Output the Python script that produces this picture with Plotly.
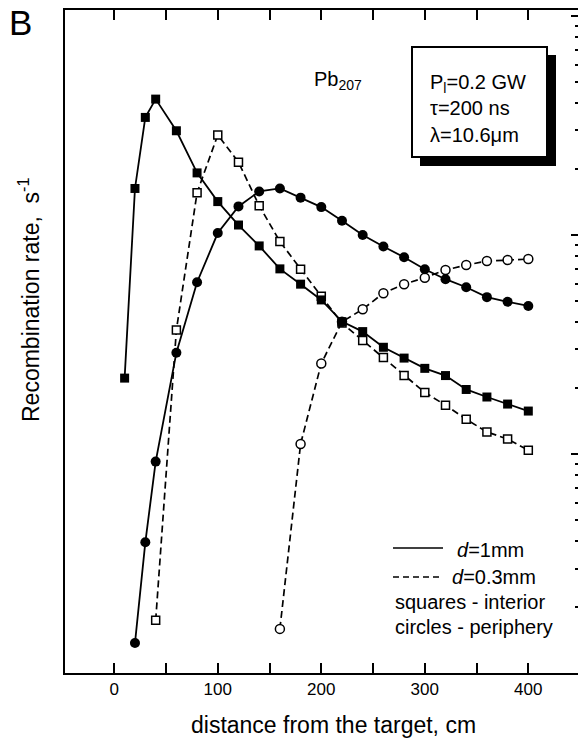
import plotly.graph_objects as go

# distance from the target, cm
dist_sq_1mm = [10, 20, 30, 40, 60, 80, 100, 120, 140, 160, 180, 200, 220, 240, 260, 280, 300, 320, 340, 360, 380, 400]
rate_sq_1mm = [22.2, 163, 344, 417, 299, 192, 142, 111, 89.1, 70.0, 59.6, 50.5, 40.2, 36.2, 30.7, 27.4, 24.6, 22.8, 19.7, 18.2, 16.9, 15.7]

dist_sq_03mm = [40, 60, 80, 100, 120, 140, 160, 180, 200, 220, 240, 260, 280, 300, 320, 340, 360, 380, 400]
rate_sq_03mm = [1.74, 36.8, 156, 286, 215, 136, 93.3, 69.7, 52.5, 39.6, 33.0, 27.6, 22.8, 19.1, 16.7, 14.4, 12.6, 11.7, 10.4]

dist_ci_1mm = [20, 30, 40, 60, 80, 100, 120, 140, 160, 180, 200, 220, 240, 260, 280, 300, 320, 340, 360, 380, 400]
rate_ci_1mm = [1.37, 3.95, 9.23, 29.0, 60.8, 102, 135, 158, 163, 148, 134, 116, 100, 88.5, 79.1, 69.7, 62.8, 57.7, 52.0, 49.5, 47.4]

dist_ci_03mm = [160, 180, 200, 220, 240, 260, 280, 300, 320, 340, 360, 380, 400]
rate_ci_03mm = [1.59, 11.1, 25.9, 40.1, 45.8, 54.2, 59.6, 63.8, 69.2, 72.9, 76.0, 76.9, 77.6]

x_ticks = [0, 100, 200, 300, 400]
x_minor = [50, 150, 250, 350]

FONT = "Liberation Sans, Arial, sans-serif"
W, H = 578, 742
L, R, T, B = 65, 0, 10, 69
PW, PH = W - L - R, H - T - B


def pxx(p):
    return (p - L) / PW


def pxy(p):
    return (H - B - p) / PH


fig = go.Figure()

dash = "7px,4px"
fig.add_trace(go.Scatter(x=dist_sq_03mm, y=rate_sq_03mm, mode="lines+markers",
                         line=dict(color="black", width=1.7, dash=dash),
                         marker=dict(symbol="square", size=8, color="white",
                                     line=dict(color="black", width=1.5))))
fig.add_trace(go.Scatter(x=dist_ci_03mm, y=rate_ci_03mm, mode="lines+markers",
                         line=dict(color="black", width=1.7, dash=dash),
                         marker=dict(symbol="circle", size=9, color="white",
                                     line=dict(color="black", width=1.5))))
fig.add_trace(go.Scatter(x=dist_sq_1mm, y=rate_sq_1mm, mode="lines+markers",
                         line=dict(color="black", width=1.8),
                         marker=dict(symbol="square", size=9, color="black")))
fig.add_trace(go.Scatter(x=dist_ci_1mm, y=rate_ci_1mm, mode="lines+markers",
                         line=dict(color="black", width=1.8),
                         marker=dict(symbol="circle", size=10, color="black")))
# dummy trace to activate the right-hand log axis
fig.add_trace(go.Scatter(x=[], y=[], yaxis="y2", showlegend=False, hoverinfo="skip"))

yr = [0, 3.027]
fig.update_layout(
    width=W, height=H,
    margin=dict(l=L, r=R, t=T, b=B),
    paper_bgcolor="white", plot_bgcolor="white",
    showlegend=False,
    font=dict(family=FONT, color="black", size=17),
    xaxis=dict(range=[-47.6, 448], tickvals=x_ticks, ticks="inside", ticklen=10,
               tickwidth=1.5, tickcolor="black", showline=True, linewidth=2,
               linecolor="black", mirror="allticks", showgrid=False, zeroline=False,
               tickfont=dict(size=17),
               minor=dict(tickvals=x_minor, ticks="inside", ticklen=5,
                          tickwidth=1.5, tickcolor="black", showgrid=False)),
    yaxis=dict(type="log", range=yr, showline=True, linewidth=2, linecolor="black",
               ticks="", showticklabels=False, showgrid=False, zeroline=False),
    yaxis2=dict(type="log", range=yr, overlaying="y", side="right", anchor="x",
                showline=False, ticks="inside", ticklen=7, tickwidth=1.5,
                tickcolor="black", dtick=1, showticklabels=False, showgrid=False,
                zeroline=False,
                minor=dict(ticks="inside", ticklen=3, tickwidth=1.5,
                           tickcolor="black", showgrid=False)),
)

ann = []
ann.append(dict(text="B", x=pxx(20), y=pxy(22), font=dict(size=35)))
ann.append(dict(text="Recombination rate,  s<sup>-1</sup>", x=pxx(29), y=pxy(300),
                textangle=-90, font=dict(size=23)))
ann.append(dict(text="distance from the target, cm", x=pxx(333), y=pxy(725),
                font=dict(size=23)))
ann.append(dict(text="Pb<sub>207</sub>", x=pxx(312), y=pxy(81), xanchor="left",
                font=dict(size=20)))
ann.append(dict(text="P<sub>l</sub>=0.2 GW", x=pxx(428), y=pxy(83), xanchor="left",
                font=dict(size=20)))
ann.append(dict(text="\u03c4=200 ns", x=pxx(428), y=pxy(108), xanchor="left",
                font=dict(size=20)))
ann.append(dict(text="\u03bb=10.6\u03bcm", x=pxx(428), y=pxy(135), xanchor="left",
                font=dict(size=20)))
ann.append(dict(text="<i>d</i>=1mm", x=pxx(455), y=pxy(550), xanchor="left",
                font=dict(size=20)))
ann.append(dict(text="<i>d</i>=0.3mm", x=pxx(450), y=pxy(577), xanchor="left",
                font=dict(size=20)))
ann.append(dict(text="squares - interior", x=pxx(393), y=pxy(602), xanchor="left",
                font=dict(size=20)))
ann.append(dict(text="circles - periphery", x=pxx(393), y=pxy(627), xanchor="left",
                font=dict(size=20)))
for a in ann:
    a.setdefault("xanchor", "center")
    a.update(xref="paper", yref="paper", yanchor="middle", showarrow=False)
fig.update_layout(annotations=ann)

shapes = [
    # shadow of the parameter box
    dict(type="rect", x0=pxx(420), x1=pxx(556), y0=pxy(55), y1=pxy(166),
         fillcolor="black", line=dict(width=0)),
    dict(type="rect", x0=pxx(412), x1=pxx(547), y0=pxy(47), y1=pxy(157),
         fillcolor="white", line=dict(color="black", width=2)),
    # legend line samples
    dict(type="line", x0=pxx(393), x1=pxx(443), y0=pxy(548), y1=pxy(548),
         line=dict(color="black", width=1.6)),
    dict(type="line", x0=pxx(393), x1=pxx(443), y0=pxy(577), y1=pxy(577),
         line=dict(color="black", width=1.6, dash="6px,4px")),
]
for s in shapes:
    s.update(xref="paper", yref="paper", layer="above")
fig.update_layout(shapes=shapes)

fig.write_html("out.html")
